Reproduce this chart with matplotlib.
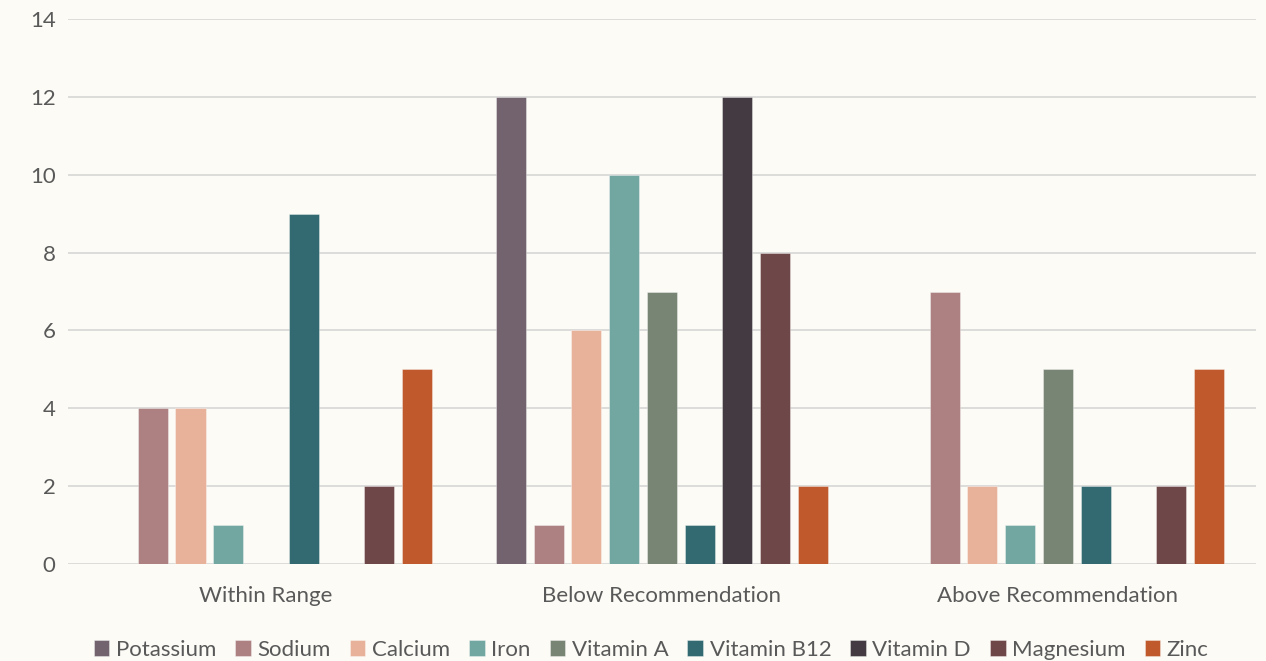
import matplotlib
matplotlib.use('Agg')
from matplotlib import pyplot as plt
import numpy as np

plt.rcParams['font.family'] = ['Lato', 'DejaVu Sans']

categories = ['Within Range', 'Below Recommendation', 'Above Recommendation']
nutrients = ['Potassium', 'Sodium', 'Calcium', 'Iron', 'Vitamin A',
             'Vitamin B12', 'Vitamin D', 'Magnesium', 'Zinc']
colors = ['#72636f', '#ad8081', '#e8b29a', '#72a6a0', '#788575',
          '#336970', '#433a42', '#6e4749', '#c0592b']

potassium = [0, 12, 0]
sodium = [4, 1, 7]
calcium = [4, 6, 2]
iron = [1, 10, 1]
vitamin_a = [0, 7, 5]
vitamin_b12 = [9, 1, 2]
vitamin_d = [0, 12, 0]
magnesium = [2, 8, 2]
zinc = [5, 2, 5]
series = [potassium, sodium, calcium, iron, vitamin_a,
          vitamin_b12, vitamin_d, magnesium, zinc]

bg = '#fcfbf6'
text_col = '#595959'

fig = plt.figure(figsize=(12.66, 6.61), dpi=100, facecolor=bg)
ax = fig.add_axes([0.0537, 0.1467, 0.9383, 0.8246], facecolor=bg)

x = np.arange(len(categories))
step = 0.0953
width = 0.0758
for k, (name, vals, c) in enumerate(zip(nutrients, series, colors)):
    ax.bar(x + (k - 4) * step, vals, width, color=c, label=name,
           edgecolor=(1, 1, 1, 0.5), linewidth=0.5, joinstyle='miter',
           zorder=3)

ax.set_xlim(-0.5, 2.5)
ax.set_ylim(0, 14)
ax.set_yticks(range(0, 15, 2))
ax.set_xticks(x)
ax.set_xticklabels(categories)
ax.grid(axis='y', color='#d9d9d9', linewidth=1.3, zorder=0)
ax.tick_params(axis='both', length=0, labelsize=16, colors=text_col)
ax.tick_params(axis='x', pad=16)
ax.tick_params(axis='y', pad=9)
for s in ax.spines.values():
    s.set_visible(False)

leg = ax.legend(loc='lower center', bbox_to_anchor=(0.491, -0.212), ncol=9,
                frameon=False, fontsize=16, handlelength=0.7,
                handleheight=0.7, handletextpad=0.3, columnspacing=0.85,
                labelcolor=text_col)

fig.savefig('out.png', dpi=100, facecolor=bg)
